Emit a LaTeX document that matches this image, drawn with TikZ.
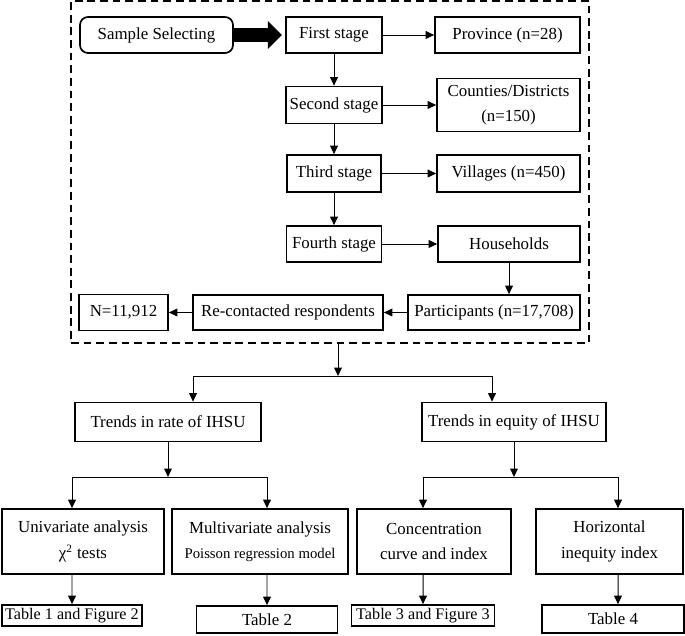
\documentclass[tikz,border=0pt]{standalone}
\usepackage{fontspec}
\setmainfont{Liberation Serif}
\usepackage{tikz}
\usetikzlibrary{arrows.meta}
\usetikzlibrary{shapes,fit,calc}

\begin{document}
\begin{tikzpicture}
    \tikzstyle{edge}  = [line width=0.7pt,draw=black]
    \tikzstyle{dedge} = [line width=0.7pt,-{Triangle[length=6pt,width=5.5pt]},draw=black]
    \tikzstyle{fatedge} = [line width=10.5pt,-{Triangle[length=0.35cm,width=0.68cm]},draw=black,shorten >=0.08cm]
    \tikzstyle{box}=[
      rectangle,
      draw=black,
      anchor=center,
      line width=1.2pt,
      inner sep=1pt,
      align=center,
      font=\fontsize{12}{18}\selectfont,
    ]
    \tikzstyle{frame}=[rectangle,draw=black,line width=1.3pt,dash pattern=on 5.5pt off 3.5pt]

    \useasboundingbox (0,0) rectangle (17.125,15.875);

    \node[frame, minimum width=12.95cm, minimum height=8.55cm] (frame) at (8.25,11.575) {};

    % sampling stages
    \node[box, rounded corners=0.2cm, minimum width=3.825cm, minimum height=0.9cm] (sample) at (3.9125,15.0) {Sample Selecting};
    \node[box, minimum width=2.4cm, minimum height=0.9cm] (first) at (8.35,15.0) {First stage};
    \node[box, minimum width=3.625cm, minimum height=0.9cm] (prov) at (12.6875,15.0) {Province (n=28)};
    \node[box, minimum width=2.4cm, minimum height=0.925cm] (second) at (8.35,13.25) {Second stage};
    \node[box, minimum width=3.575cm, minimum height=1.325cm] (counties) at (12.7125,13.25) {Counties/Districts\\(n=150)};
    \node[box, minimum width=2.35cm, minimum height=0.925cm] (third) at (8.35,11.5375) {Third stage};
    \node[box, minimum width=3.575cm, minimum height=0.925cm] (villages) at (12.7125,11.5375) {Villages (n=450)};
    \node[box, minimum width=2.375cm, minimum height=0.9cm] (fourth) at (8.35,9.775) {Fourth stage};
    \node[box, minimum width=3.55cm, minimum height=0.9cm] (house) at (12.725,9.775) {Households};
    \node[box, minimum width=4.3cm, minimum height=0.875cm] (partic) at (12.35,8.0625) {Participants (n=17,708)};
    \node[box, minimum width=4.75cm, minimum height=0.875cm] (recon) at (7.2,8.0625) {Re-contacted respondents};
    \node[box, minimum width=2.225cm, minimum height=0.9cm] (total) at (3.0875,8.0625) {N=11,912};

    % analyses
    \node[box, minimum width=4.65cm, minimum height=0.975cm] (rate) at (4.2,5.325) {Trends in rate of IHSU};
    \node[box, minimum width=4.6cm, minimum height=0.975cm] (equity) at (12.85,5.325) {Trends in equity of IHSU};
    \node[box, minimum width=4.05cm, minimum height=1.625cm] (univ) at (2.075,2.3375) {Univariate analysis\\χ\textsuperscript{2} tests};
    \node[box, minimum width=4.4cm, minimum height=1.625cm] (multi) at (6.5,2.3375) {Multivariate analysis\\{\fontsize{10.5}{12}\selectfont Poisson regression model}};
    \node[box, minimum width=3.85cm, minimum height=1.625cm] (conc) at (10.85,2.3375) {Concentration\\curve and index};
    \node[box, minimum width=3.675cm, minimum height=1.625cm] (horiz) at (15.2375,2.3375) {Horizontal\\inequity index};

    \node[box, minimum width=3.5cm, minimum height=0.525cm, font=\fontsize{11.5}{13}\selectfont] (t1) at (1.8,0.4875) {Table 1 and Figure 2};
    \node[box, minimum width=3.525cm, minimum height=0.675cm] (t2) at (6.675,0.3875) {Table 2};
    \node[box, minimum width=3.575cm, minimum height=0.525cm, font=\fontsize{11.5}{13}\selectfont] (t3) at (10.575,0.4875) {Table 3 and Figure 3};
    \node[box, minimum width=3.55cm, minimum height=0.7cm] (t4) at (15.325,0.4) {Table 4};

    \coordinate (split) at (8.45,6.475);
    \coordinate (lsplit) at (4.2,3.95);
    \coordinate (rsplit) at (12.85,3.95);

    \draw[fatedge] (sample)--(first);
    \draw[dedge] (first)--(prov);
    \draw[dedge] (first)--(second);
    \draw[dedge] (second)--(counties);
    \draw[dedge] (second)--(third);
    \draw[dedge] (third)--(villages);
    \draw[dedge] (third)--(fourth);
    \draw[dedge] (fourth)--(house);
    \draw[dedge] (house)--(house |- partic.north);
    \draw[dedge] (partic)--(recon);
    \draw[dedge] (recon)--(total);

    \draw[dedge] (frame.south -| split)--(split);
    \draw[dedge] (split) -| ([xshift=0.625cm]rate.north);
    \draw[dedge] (split) -| ([xshift=-0.55cm]equity.north);

    \draw[dedge] (rate)--(lsplit);
    \draw[dedge] (lsplit) -| ([xshift=-0.275cm]univ.north);
    \draw[dedge] (lsplit) -| ([xshift=0.175cm]multi.north);
    \draw[dedge] (equity)--(rsplit);
    \draw[dedge] (rsplit) -| ([xshift=-0.275cm]conc.north);
    \draw[dedge] (rsplit) -| ([xshift=0.2125cm]horiz.north);

    \draw[dedge] ([xshift=-0.275cm]univ.south)--(t1);
    \draw[dedge] ([xshift=0.175cm]multi.south)--(t2);
    \draw[dedge] ([xshift=-0.275cm]conc.south)--(t3);
    \draw[dedge] ([xshift=0.2125cm]horiz.south)--([xshift=0.125cm]t4.north);
  \end{tikzpicture}
\end{document}
